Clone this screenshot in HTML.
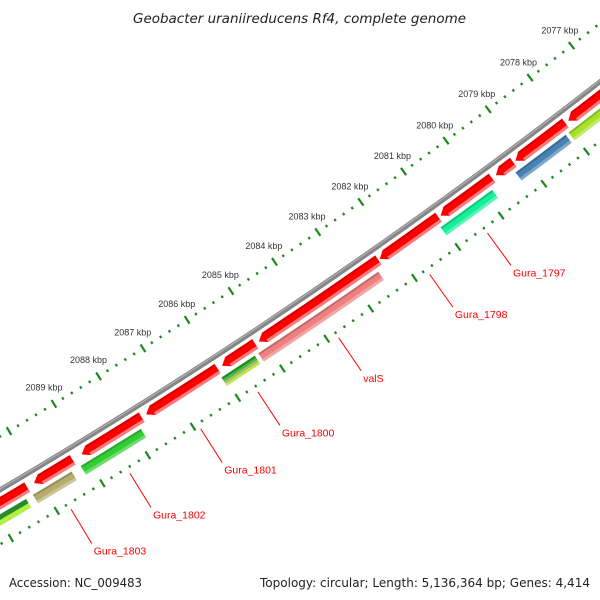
<!DOCTYPE html>
<html><head><meta charset="utf-8"><style>
html,body{margin:0;padding:0;background:#fff;}
svg{display:block;font-family:"Liberation Sans",sans-serif;}
</style></head><body>
<svg id="map" width="600" height="600" viewBox="0 0 600 600" xmlns="http://www.w3.org/2000/svg">
<rect width="600" height="600" fill="#fff"/>
<g id="ticks"></g>
<g id="backbone"></g>
<g id="genes"></g>
<g id="labels"></g>
<text x="133" y="23" textLength="333" lengthAdjust="spacingAndGlyphs" font-size="13" font-style="italic" fill="#222" font-family="DejaVu Sans, sans-serif">Geobacter uraniireducens Rf4, complete genome</text>
<text x="9" y="587" textLength="133" lengthAdjust="spacingAndGlyphs" font-size="12" fill="#222" font-family="DejaVu Sans, sans-serif">Accession: NC_009483</text>
<text x="260" y="587" textLength="330" lengthAdjust="spacingAndGlyphs" font-size="12" fill="#222" font-family="DejaVu Sans, sans-serif">Topology: circular; Length: 5,136,364 bp; Genes: 4,414</text>
</svg>
<script>
// data (kbp)
const geneStart = [2077.0, 2077.99, 2079.22, 2079.72, 2080.97, 2082.36, 2085.17, 2086.02, 2087.72, 2089.25, 2090.25];
const geneEnd   = [2077.92, 2079.17, 2079.63, 2080.92, 2082.33, 2085.09, 2085.92, 2087.62, 2089.05, 2090.1, 2091.2];
const geneNames = ["", "", "", "Gura_1797", "Gura_1798", "valS", "Gura_1800", "Gura_1801", "Gura_1802", "Gura_1803", ""];
const geneCogColors = [["#a6e22a"], ["#4682b4"], [], ["#14f09a"], [], ["#f08080"], ["#228b22","#3cc03c","#bdb270","#b0f040"], [], ["#32cd32"], ["#b5ad6a"], ["#2a8a2a","#b0f040"]];
const tickLabels = [2077, 2078, 2079, 2080, 2081, 2082, 2083, 2084, 2085, 2086, 2087, 2088, 2089];

const NS = "http://www.w3.org/2000/svg";
const CX = -2843.4, CY = -4334.5, R = 5600;
function theta(k){ return (56.39 + (k - 2085) * 0.5415) * Math.PI / 180; }
function pt(k, r){ const t = theta(k); return [CX + (R + r) * Math.cos(t), CY + (R + r) * Math.sin(t)]; }
function f(p){ return p[0].toFixed(2) + " " + p[1].toFixed(2); }
function band(k1, k2, r1, r2){
  const a = pt(k1, r1), b = pt(k2, r1), c = pt(k2, r2), d = pt(k1, r2);
  return "M" + f(a) + " A" + (R + r1) + " " + (R + r1) + " 0 0 1 " + f(b) + " L" + f(c) +
    " A" + (R + r2) + " " + (R + r2) + " 0 0 0 " + f(d) + " Z";
}
function arrow(k1, k2, r1, r2){
  const h = 0.14, kb = Math.max(k1, k2 - h);
  const a = pt(k1, r1), b = pt(kb, r1), tip = pt(k2, (r1 + r2) / 2), c = pt(kb, r2), d = pt(k1, r2);
  return "M" + f(a) + " A" + (R + r1) + " " + (R + r1) + " 0 0 1 " + f(b) + " L" + f(tip) + " L" + f(c) +
    " A" + (R + r2) + " " + (R + r2) + " 0 0 0 " + f(d) + " Z";
}
function mk(tag, attrs, parent){
  const e = document.createElementNS(NS, tag);
  for (const k in attrs) e.setAttribute(k, attrs[k]);
  parent.appendChild(e); return e;
}
// backbone
const bb = document.getElementById("backbone");
const bbp = mk("path", {d: "M" + f(pt(2094, 0)) + " A" + R + " " + R + " 0 0 0 " + f(pt(2074, 0)), fill: "none", stroke: "#858585", "stroke-width": 5}, bb);


const bbh = mk("path", {d: "M" + f(pt(2094, -1)) + " A" + (R - 1) + " " + (R - 1) + " 0 0 0 " + f(pt(2074, -1)), fill: "none", stroke: "#b0b0b0", "stroke-width": 1.2}, bb);



// ticks
const tg = document.getElementById("ticks");
for (let i = 0; i <= 90; i++) {
  const k = 2074 + i * 0.2;
  const major = Math.abs(k - Math.round(k)) < 0.01;
  [-46, 47].forEach(function(rc){
    const len = major ? 4.5 : 1.3;
    const p1 = pt(k, rc - len), p2 = pt(k, rc + len);
    const ln = mk("line", {x1: p1[0], y1: p1[1], x2: p2[0], y2: p2[1], stroke: "#1a8a1a", "stroke-width": 2.2}, tg);
    
    
  });
}
tickLabels.forEach(function(k){
  const p = pt(k, -65);
  const t = mk("text", {x: p[0], y: p[1] + 3, "text-anchor": "middle", "font-size": "9", fill: "#333"}, tg);
  t.textContent = k + " kbp";
  
  
});

// genes
const gg = document.getElementById("genes");
const lg = document.getElementById("labels");
for (let i = 0; i < geneStart.length; i++) {
  const k1 = geneStart[i], k2 = geneEnd[i];
  const g = mk("g", {}, gg);
  
  
  const a = mk("path", {d: arrow(k1, k2, 6, 17), fill: "#ff0000"}, g);
  
  
  const a2 = mk("path", {d: band(k1, k2 - 0.14, 6, 8), fill: "#d80000"}, g);
  
  
  const a3 = mk("path", {d: band(k1, k2 - 0.14, 14, 17), fill: "#ff7a7a"}, g);
  
  
  const cols = geneCogColors[i];
  if (cols.length) {
    const r0 = 21, h = 10 / cols.length;
    cols.forEach(function(c, j){
      const b = mk("path", {d: band(k1 + 0.13, k2 + 0.13, r0 + j * h, r0 + (j + 1) * h), fill: c}, g);
      
      
    });
    if (cols.length === 1) {
      const s = mk("path", {d: band(k1 + 0.13, k2 + 0.13, r0, r0 + 2), fill: "#000", "fill-opacity": 0.18}, g);
      
      
      const s2 = mk("path", {d: band(k1 + 0.13, k2 + 0.13, r0 + 7, r0 + 10), fill: "#fff", "fill-opacity": 0.3}, g);
      
      
    }
  }
  if (geneNames[i]) {
    const km = (k1 + k2) / 2 + 0.08;
    const p1 = pt(km, 53), p2 = pt(km, 93);
    const ln = mk("line", {x1: p1[0], y1: p1[1], x2: p2[0], y2: p2[1], stroke: "#ff0000", "stroke-width": 1}, lg);
    
    
    const t = mk("text", {x: p2[0] + 2, y: p2[1] + 11, "font-size": "10.5", fill: "#ff0000"}, lg);
    t.textContent = geneNames[i];
    
    
  }
}
</script>
</body></html>
